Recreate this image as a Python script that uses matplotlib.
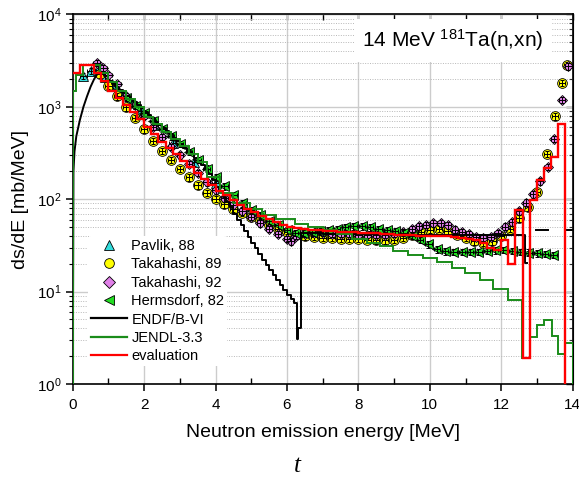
import numpy as np
import matplotlib
matplotlib.use("Agg")
import matplotlib.pyplot as plt
from matplotlib.lines import Line2D
from matplotlib.ticker import LogLocator, MultipleLocator, NullFormatter

plt.rcParams['font.family'] = ['Liberation Sans', 'DejaVu Sans']
plt.rcParams['mathtext.fontset'] = 'custom'
plt.rcParams['mathtext.rm'] = 'Liberation Sans'
plt.rcParams['mathtext.it'] = 'Liberation Sans:italic'

# evaluation (red histogram): bin edges and values
eval_edges = [0.0, 0.2, 0.4, 0.6, 0.8, 1.0, 1.2, 1.4, 1.6, 1.8, 2.0, 2.2, 2.4, 2.6, 2.8,
              3.0, 3.2, 3.4, 3.6, 3.8, 4.0, 4.2, 4.4, 4.6, 4.8, 5.0, 5.2, 5.4, 5.6, 5.8,
              6.0, 6.2, 6.4, 6.6, 6.8, 7.0, 7.2, 7.4, 7.6, 7.8, 8.0, 8.2, 8.4, 8.6, 8.8,
              9.0, 9.2, 9.4, 9.6, 9.8, 10.0, 10.2, 10.4, 10.6, 10.8, 11.0, 11.2, 11.4,
              11.6, 11.8, 12.0, 12.2, 12.4, 12.6, 12.8, 13.0, 13.2, 13.4, 13.6, 13.8, 14.0]
eval_vals = [2300, 2850, 2850, 2350, 1900, 1500, 1250, 1060, 890, 740, 610, 505, 420, 355,
             305, 262, 225, 192, 165, 142, 124, 110, 97, 87, 79, 72, 66, 61, 57, 53,
             50.5, 48.5, 47.5, 46.5, 46, 45.5, 45, 44.5, 44, 43.7, 43.3, 43, 42.6, 42.2,
             41.8, 41.4, 41, 40.7, 40.4, 40.2, 40, 39.8, 39.5, 39.2, 38.5, 37.5, 36, 33.5,
             30, 28.3, 36, 20, 76, 1.9, 99, 162, 217, 290, 656, 0.3]

# ENDF/B-VI (black): smooth rise at low energy, then histogram
endf_rise_e = [0.0, 0.02, 0.05, 0.1, 0.2, 0.3, 0.4, 0.5, 0.6, 0.7, 0.8]
endf_rise_v = [0.5, 200, 330, 480, 720, 1000, 1300, 1650, 2000, 2300, 2350]
endf_e = [0.8, 0.9, 1.0, 1.1, 1.2,
          1.3, 1.4, 1.5, 1.6, 1.7, 1.8, 1.9, 2.0, 2.1, 2.2, 2.3, 2.4, 2.5, 2.6, 2.7, 2.8,
          2.9, 3.0, 3.1, 3.2, 3.3, 3.4, 3.5, 3.6, 3.7, 3.8, 3.9, 4.0, 4.1, 4.2, 4.3, 4.4,
          4.5, 4.6, 4.7, 4.8, 4.9, 5.0, 5.1, 5.2, 5.3, 5.4, 5.5, 5.6, 5.7, 5.8, 5.9, 6.0,
          6.1, 6.2, 6.29, 6.32, 6.39, 7.0, 8.0, 9.0, 10.0, 11.0, 12.0, 12.68, 12.72]
endf_v = [2350, 2150, 1900, 1760,
          1640, 1530, 1420, 1320, 1220, 1130, 1040, 960, 880, 810, 750, 690, 640, 590, 545,
          505, 465, 430, 395, 360, 330, 305, 280, 255, 232, 210, 186, 160, 137, 120, 106,
          94, 82, 70, 60, 52, 45, 39, 34, 29.5, 25.5, 22, 19.5, 17.2, 15, 13.3, 11.8, 10.4,
          9.3, 8.4, 7.5, 3.1, 4.0, 43, 42.5, 42, 41.5, 41, 41, 41, 20.5, 20.5]
endf_tail_e = [12.97, 13.32, np.nan, 13.84, 14.0]
endf_tail_v = [47, 47, np.nan, 47, 47]

# JENDL-3.3 (green histogram)
jendl_edges = [0.0, 0.1, 0.3, 0.77, 1.0, 1.25, 1.5, 1.75, 2.0, 2.25, 2.5, 2.75, 3.0, 3.25,
               3.5, 3.75, 4.13, 4.5, 4.96, 5.3, 5.7, 6.23, 6.6, 7.0, 7.4, 7.82, 8.24, 8.61,
               8.98, 9.40, 9.82, 10.19, 10.61, 10.99, 11.41, 11.78, 12.2, 12.58, 12.81,
               13.0, 13.2, 13.42, 13.6, 13.79, 14.0]
jendl_vals = [1500, 2200, 2850, 2350, 1850, 1500, 1220, 990, 780, 650, 540, 450, 375, 310,
              255, 175, 116, 91, 78, 68, 61, 54, 50, 46, 42, 37, 33.4, 30.8, 27.2, 25.0,
              23.0, 20.7, 17.9, 15.8, 13.2, 10.6, 8.1, 1.9, 3.2, 4.36, 4.9, 3.3, 2.1, 2.76]

# Experimental data
pav_e = [0.3, 0.5, 0.7, 0.9, 1.1, 1.3, 1.6, 1.9, 2.3, 2.8, 3.4, 4.0]
pav_v = [2150, 2450, 2500, 2100, 1750, 1450, 1150, 900, 640, 410, 250, 150]

tak89_e = [0.75, 1.0, 1.25, 1.5, 1.75, 2.0, 2.25, 2.5, 2.75, 3.0, 3.25, 3.5, 3.75, 4.0,
           4.25, 4.5, 4.75, 5.0, 5.25, 5.5, 5.75, 6.0, 6.25, 6.5, 6.75, 7.0, 7.25, 7.5,
           7.75, 8.0, 8.25, 8.5, 8.75, 9.0, 9.25, 9.5, 9.75, 10.0, 10.25, 10.5, 10.75,
           11.0, 11.25, 11.5, 11.75, 12.0, 12.25, 12.5, 12.75, 13.0, 13.28, 13.51, 13.7, 13.84]
tak89_v = [2250, 1700, 1300, 990, 760, 570, 430, 335, 268, 214, 172, 141, 118, 101, 88,
           79, 71, 64, 58, 53, 48, 44, 41, 39.5, 39, 38.5, 38, 37.5, 37, 37, 36.5, 36, 36,
           36.5, 38, 41, 44, 47, 48, 45, 41, 38, 35, 33.5, 35, 40, 48, 62, 82, 120, 311,
           787, 1810, 2860]

tak92_e = [0.67, 0.86, 1.0, 1.25, 1.5, 1.75, 2.0, 2.25, 2.5, 2.75, 3.0, 3.25, 3.5, 3.75,
           4.0, 4.25, 4.5, 4.75, 5.0, 5.25, 5.5, 5.75, 6.0, 6.1, 6.25, 6.5, 6.75, 7.0, 7.25,
           7.5, 7.75, 8.0, 8.25, 8.5, 8.75, 9.0, 9.25, 9.5, 9.7, 9.9, 10.1, 10.3, 10.5,
           10.7, 10.9, 11.1, 11.3, 11.5, 11.7, 11.9, 12.1, 12.3, 12.5, 12.7, 12.9, 13.09,
           13.3, 13.49, 13.7, 13.88]
tak92_v = [2980, 2640, 2200, 1750, 1320, 1040, 800, 610, 475, 370, 298, 240, 193, 153,
           125, 102, 86, 74, 64, 55, 48, 42, 37, 35, 40, 42, 43, 43, 42.5, 42, 42, 41.5, 41,
           41, 41, 42, 44, 48, 51, 53, 55, 55, 52, 47, 44, 42, 39.4, 37.9, 39.4, 43, 50.6,
           56, 74, 92, 113, 156, 223, 448, 1195, 2750]

herm_e = [1.5, 1.75, 2.0, 2.25, 2.5, 2.75, 3.0, 3.25, 3.5, 3.75, 4.0, 4.25, 4.5, 4.75,
          5.0, 5.25, 5.5, 5.75, 6.0, 6.23, 6.46, 6.7, 6.93, 7.16, 7.4, 7.63, 7.86, 8.1,
          8.33, 8.56, 8.8, 9.03, 9.26, 9.5, 9.73, 9.96, 10.2, 10.43, 10.66, 10.9, 11.13,
          11.36, 11.6, 11.83, 12.06, 12.3, 12.53, 12.76, 13.0, 13.23, 13.46]
herm_v = [1250, 1020, 850, 700, 580, 480, 395, 325, 265, 215, 172, 138, 110, 90, 77, 67,
          58, 52, 46, 43, 43.5, 44, 45, 46.5, 48, 50, 51, 51, 49.5, 48, 46.6, 45, 43, 40,
          36.3, 32.6, 28.8, 27.2, 27, 27, 27, 27, 27.5, 28, 28.3, 27.5, 27, 26.5, 26,
          25.5, 25]

fig, ax = plt.subplots(figsize=(5.79, 4.78), dpi=100)
fig.subplots_adjust(left=0.1256, right=0.989, bottom=0.1967, top=0.9697)

ax.set_yscale('log')
ax.set_xlim(0, 14)
ax.set_ylim(1, 1e4)

# grid
ax.grid(True, which='major', color='#cccccc', lw=1.0, zorder=0)
ax.yaxis.grid(True, which='minor', color='#b8b8b8', lw=0.7, ls=(0, (1, 1.5)), zorder=0)
ax.xaxis.grid(False, which='minor')
ax.set_axisbelow(True)


def exp_series(e, v, marker, color, ms):
    v = np.array(v, dtype=float)
    ax.plot(e, v, ls='none', marker=marker, ms=ms, mfc=color, mec='black', mew=0.6, zorder=3)
    ax.errorbar(e, v, xerr=0.09, yerr=0.08 * v, fmt='none', ecolor='black',
                elinewidth=0.7, capsize=1.5, capthick=0.7, zorder=3)


exp_series(pav_e, pav_v, '^', '#33dddd', 6.5)
exp_series(tak89_e, tak89_v, 'o', '#ffff00', 7)
exp_series(tak92_e, tak92_v, 'D', '#e080e8', 5.5)
exp_series(herm_e, herm_v, '<', '#22dd22', 7)

ax.plot(endf_rise_e, endf_rise_v, color='black', lw=1.4, zorder=4)
ax.plot(endf_e, endf_v, drawstyle='steps-post', color='black', lw=1.4, zorder=4)
ax.plot(endf_tail_e, endf_tail_v, color='black', lw=1.4, zorder=4)
ax.stairs(jendl_vals, jendl_edges, baseline=0.3, color='#1a8c1a', lw=1.4, zorder=5)
ax.stairs(eval_vals, eval_edges, baseline=None, color='#ff0000', lw=1.7, zorder=6)

# ticks
ax.xaxis.set_major_locator(MultipleLocator(2))
ax.xaxis.set_minor_locator(MultipleLocator(1))
ax.yaxis.set_major_locator(LogLocator(base=10, numticks=10))
ax.yaxis.set_minor_locator(LogLocator(base=10, subs=np.arange(2, 10), numticks=10))
ax.yaxis.set_minor_formatter(NullFormatter())
ax.tick_params(axis='x', which='major', direction='out', length=5, width=1.1,
               labelsize=11, pad=5)
ax.tick_params(axis='x', which='minor', direction='in', length=4, width=1)
ax.tick_params(axis='y', which='major', direction='out', length=5, width=1.1,
               labelsize=11, pad=3)
ax.tick_params(axis='y', which='minor', direction='out', length=3, width=0.8)
for sp in ax.spines.values():
    sp.set_linewidth(1.2)

top = ax.secondary_xaxis('top')
top.xaxis.set_major_locator(MultipleLocator(1))
top.tick_params(direction='in', length=4, width=1, labeltop=False)
right = ax.secondary_yaxis('right')
right.yaxis.set_major_locator(LogLocator(base=10, numticks=10))
right.yaxis.set_minor_locator(LogLocator(base=10, subs=np.arange(2, 10), numticks=10))
right.tick_params(which='both', direction='in', labelright=False)
right.tick_params(which='major', length=5, width=1)
right.tick_params(which='minor', length=3, width=0.8)

ax.set_xlabel('Neutron emission energy [MeV]', fontsize=14, labelpad=9)
ax.set_ylabel('ds/dE [mb/MeV]', fontsize=14, labelpad=6)

ax.text(0.76, 0.93, r'14 MeV $^{\mathrm{181}}$Ta(n,xn)', transform=ax.transAxes,
        fontsize=15, ha='center', va='center', zorder=10,
        bbox=dict(facecolor='white', edgecolor='none', pad=6))

handles = [
    Line2D([], [], ls='none', marker='^', ms=7, mfc='#33dddd', mec='black', mew=0.6),
    Line2D([], [], ls='none', marker='o', ms=7, mfc='#ffff00', mec='black', mew=0.6),
    Line2D([], [], ls='none', marker='D', ms=6, mfc='#e080e8', mec='black', mew=0.6),
    Line2D([], [], ls='none', marker='<', ms=7, mfc='#22dd22', mec='black', mew=0.6),
    Line2D([], [], color='black', lw=1.6),
    Line2D([], [], color='#1a8c1a', lw=1.6),
    Line2D([], [], color='#ff0000', lw=1.6),
]
labels = ['Pavlik, 88', 'Takahashi, 89', 'Takahashi, 92', 'Hermsdorf, 82',
          'ENDF/B-VI', 'JENDL-3.3', 'evaluation']
leg = ax.legend(handles, labels, loc='upper left', bbox_to_anchor=(0.03, 0.40),
                fontsize=10.5, frameon=True, facecolor='white', edgecolor='none',
                framealpha=1, handlelength=2.5, handletextpad=0.3, labelspacing=0.3,
                borderpad=0.2, borderaxespad=0)
leg.set_zorder(10)

fig.text(0.513, 0.025, 't', family='Liberation Serif', style='italic', fontsize=18,
         ha='center', va='center')

fig.savefig('out.png', dpi=100)
